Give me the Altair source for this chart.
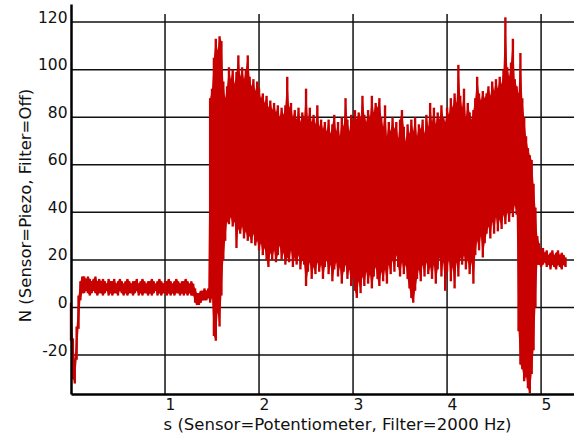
import altair as alt
import pandas as pd

# Force trace, drawn as min/max columns every 20 ms (piezo sensor, unfiltered).
BIN = 0.02

# 0.00 s - 0.12 s: initial negative swing
onset_start = 0.00
onset_lo = [-14, -30, -32, -22, -9, 3, 6]
onset_hi = [2, -13, -22, -8, 5, 11, 13]

# 0.14 s - 1.28 s: steady hold
hold_start = 0.14
hold_lo = [6, 7, 6, 5, 6, 7, 6, 5, 6, 6,
           5, 6, 7, 5, 6, 5, 6, 6, 5, 7,
           6, 5, 6, 5, 6, 6, 5, 6, 7, 5,
           6, 5, 6, 6, 5, 6, 5, 6, 7, 5,
           6, 5, 6, 6, 5, 6, 5, 6, 5, 6,
           6, 5, 6, 5, 6, 5, 6, 5]
hold_hi = [13, 12, 13, 12, 11, 12, 13, 11, 12, 11,
           12, 11, 10, 12, 11, 11, 12, 10, 11, 12,
           11, 10, 11, 12, 11, 10, 11, 11, 12, 10,
           11, 12, 11, 10, 11, 11, 12, 11, 10, 11,
           12, 11, 10, 11, 11, 12, 11, 10, 11, 12,
           11, 10, 11, 11, 12, 11, 10, 11]

# 1.30 s - 1.46 s: small drop before the burst
settle_start = 1.30
settle_lo = [5, 2, 1, 1, 2, 3, 3, 3, 4]
settle_hi = [10, 8, 6, 6, 7, 7, 8, 7, 8]

# 1.48 s - 4.78 s: vibration burst
burst_start = 1.48
burst_lo = [2, 4, -12, -14, -2, -8, 5, 20, 28, 36,
            35, 38, 34, 36, 25, 33, 31, 34, 29, 32,
            28, 30, 27, 31, 26, 28, 24, 27, 22, 25,
            20, 17, 23, 20, 24, 19, 22, 26, 20, 23,
            18, 21, 19, 24, 17, 21, 18, 22, 16, 20,
            18, 9, 15, 19, 12, 17, 14, 19, 15, 18,
            12, 17, 20, 14, 18, 11, 16, 19, 13, 17,
            10, 15, 18, 12, 16, 9, 13, 7, 4, 11,
            6, 13, 9, 15, 10, 14, 8, 13, 17, 12,
            9, 15, 11, 16, 10, 18, 14, 20, 15, 22,
            17, 13, 19, 14, 18, 12, 8, 4, 2, 7,
            12, 16, 11, 18, 13, 19, 14, 17, 12, 18,
            10, 16, 21, 13, 19, 7, 15, 20, 11, 17,
            8, 19, 13, 21, 18, 22, 16, 20, 14, 19,
            10, 22, 28, 24, 30, 21, 27, 31, 34, 29,
            36, 31, 38, 32, 37, 33, 39, 35, 40, 36,
            41, 38, 43, 39, -10, -24]
burst_hi = [88, 92, 105, 113, 108, 114, 112, 95, 88, 93,
            101, 96, 100, 94, 99, 106, 97, 101, 96, 100,
            106, 97, 93, 96, 91, 95, 92, 88, 90, 86,
            89, 84, 87, 83, 86, 82, 85, 80, 84, 81,
            85, 97, 84, 86, 80, 83, 79, 84, 78, 82,
            80, 92, 79, 84, 78, 81, 77, 85, 76, 79,
            75, 78, 74, 79, 73, 77, 81, 74, 78, 72,
            80, 76, 88, 79, 74, 81, 78, 83, 79, 82,
            80, 89, 81, 78, 83, 80, 89, 82, 86, 84,
            88, 80, 76, 85, 72, 78, 74, 80, 75, 78,
            71, 79, 83, 76, 70, 77, 73, 79, 74, 80,
            72, 77, 75, 79, 73, 81, 76, 86, 78, 84,
            77, 82, 79, 85, 80, 78, 84, 81, 88, 84,
            90, 86, 102, 89, 84, 92, 80, 86, 82, 79,
            83, 88, 97, 90, 87, 91, 88, 90, 93, 89,
            95, 91, 96, 92, 97, 94, 100, 122, 101, 97,
            103, 113, 96, 93, 90, 107]

# 4.80 s - 5.26 s: release and residual load
release_start = 4.80
release_lo = [-26, -31, -29, -34, -36, -28, -18, 0, 18, 18,
              17, 18, 19, 17, 18, 16, 18, 17, 16, 18,
              17, 16, 18, 17]
release_hi = [88, 80, 72, 67, 64, 62, 52, 42, 30, 27,
              24, 25, 23, 24, 22, 23, 24, 22, 23, 24,
              22, 23, 22, 21]

segments = [
    (onset_start, onset_lo, onset_hi),
    (hold_start, hold_lo, hold_hi),
    (settle_start, settle_lo, settle_hi),
    (burst_start, burst_lo, burst_hi),
    (release_start, release_lo, release_hi),
]

rows = []
for start, lo, hi in segments:
    for k, (a, b) in enumerate(zip(lo, hi)):
        rows.append({"t": round(start + BIN * k, 4), "lo": a, "hi": b})
signal = pd.DataFrame(rows)

# Axes and grid
x_ticks = [1, 2, 3, 4, 5]
y_ticks = [-20, 0, 20, 40, 60, 80, 100, 120]
X_MIN, X_MAX = 0.0, 5.35
Y_MIN, Y_MAX = -36.4, 127.6
V_GRID_TOP = 123.4

FONT = "DejaVu Sans"
RED = "#c80000"
INK = "#111111"

x_scale = alt.Scale(domain=[X_MIN, X_MAX], nice=False, zero=False)
y_scale = alt.Scale(domain=[Y_MIN, Y_MAX], nice=False, zero=False)

x_axis = alt.Axis(
    values=x_ticks,
    format="d",
    grid=False,
    ticks=False,
    domain=True,
    domainColor="#000000",
    domainWidth=2.5,
    labelFont=FONT,
    labelFontSize=15.5,
    labelColor=INK,
    labelBaseline="top",
    labelAlign="left",
    labelPadding=3,
    title="s (Sensor=Potentiometer, Filter=2000 Hz)",
    titleFont=FONT,
    titleFontSize=16.5,
    titleFontWeight="normal",
    titleColor=INK,
    titleAlign="center",
    titleBaseline="middle",
    titleX=266,
    titleY=30,
    zindex=1,
)

y_axis = alt.Axis(
    values=y_ticks,
    labelExpr="datum.value < 0 ? '-' + abs(datum.value) : '' + datum.value",
    grid=False,
    ticks=False,
    domain=True,
    domainColor="#000000",
    domainWidth=2.5,
    labelFont=FONT,
    labelFontSize=15.5,
    labelColor=INK,
    labelBaseline="alphabetic",
    labelAlign="right",
    labelPadding=4,
    title="N (Sensor=Piezo, Filter=Off)",
    titleFont=FONT,
    titleFontSize=16.5,
    titleFontWeight="normal",
    titleColor=INK,
    titleAngle=270,
    titleAlign="center",
    titleBaseline="middle",
    titleX=-46,
    titleY=201,
    zindex=1,
)

h_lines = pd.DataFrame({"v": y_ticks, "x0": X_MIN, "x1": X_MAX})
v_lines = pd.DataFrame({"v": x_ticks, "y0": Y_MIN, "y1": V_GRID_TOP})

h_grid = alt.Chart(h_lines).mark_rule(color=INK, strokeWidth=1.5).encode(
    x=alt.X("x0:Q", scale=x_scale, axis=x_axis),
    x2="x1:Q",
    y=alt.Y("v:Q", scale=y_scale, axis=y_axis),
)

v_grid = alt.Chart(v_lines).mark_rule(color=INK, strokeWidth=1.5).encode(
    x=alt.X("v:Q", scale=x_scale, axis=x_axis),
    y=alt.Y("y0:Q", scale=y_scale, axis=y_axis),
    y2="y1:Q",
)

# solid body of the trace between the per-bin extremes
body = alt.Chart(signal).mark_area(color=RED, opacity=1).encode(
    x=alt.X("t:Q", scale=x_scale, axis=x_axis),
    y=alt.Y("lo:Q", scale=y_scale, axis=y_axis),
    y2="hi:Q",
)

# sharp per-bin extremes on top
trace = alt.Chart(signal).mark_rule(
    color=RED, strokeWidth=2.4, strokeCap="butt"
).encode(
    x=alt.X("t:Q", scale=x_scale, axis=x_axis),
    y=alt.Y("lo:Q", scale=y_scale, axis=y_axis),
    y2="hi:Q",
)

chart = alt.layer(h_grid, v_grid, body, trace).properties(
    width=503,
    height=390,
    padding={"left": 71, "top": 4, "right": 0, "bottom": 47},
    autosize=alt.AutoSizeParams(type="none"),
    background="white",
).configure_view(stroke=None)

chart.save("out.html", embed_options={"renderer": "svg", "actions": False})
